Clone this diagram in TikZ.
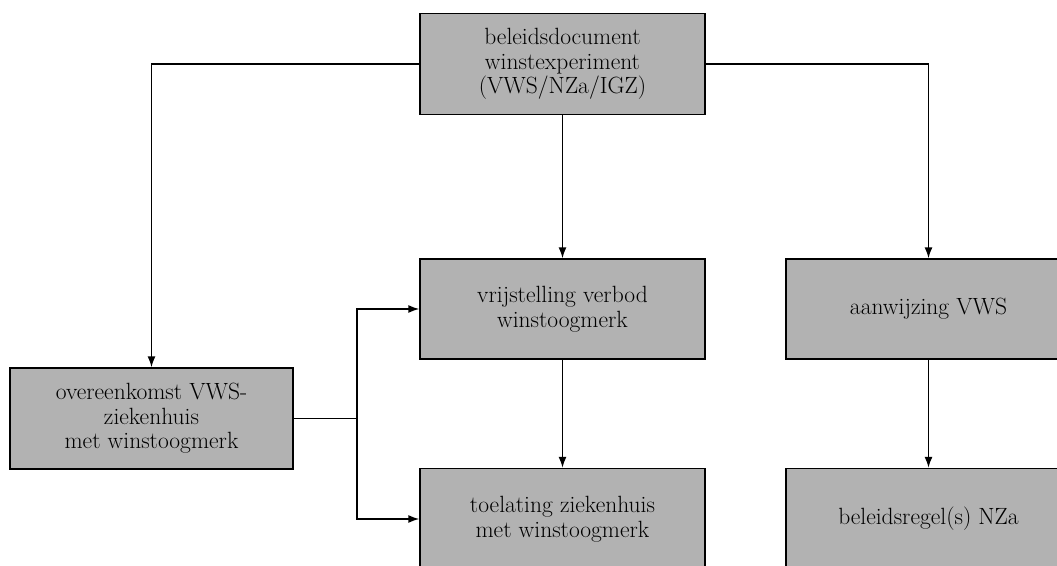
\documentclass[tikz,border=0pt]{standalone}
\usepackage{tikz}
\usetikzlibrary{positioning, arrows.meta}
\tikzset{
  blok/.style={draw, line width=1.3pt, fill=black!30, align=center,
    minimum width=285pt, minimum height=101pt, inner sep=2pt,
    font=\fontsize{23.5}{24.5}\selectfont},
  pijl/.style={line width=1.6pt, -{Latex[length=11pt, width=8pt]}}
}

\begin{document}
\begin{tikzpicture}[x=1pt, y=1pt]
      \useasboundingbox (0,0) rectangle (1057,565);
      \clip (0,0) rectangle (1057,565);
      \node[blok] (beleid) at (562.5,501) {beleidsdocument\\winstexperiment\\(VWS/NZa/IGZ)};
      \node[blok, minimum width=283pt] (overeen) at (151.5,146.5) {overeenkomst VWS-\\ziekenhuis\\met winstoogmerk};
      \node[blok, minimum height=100pt] (vrijst) at (562.5,256) {vrijstelling verbod\\winstoogmerk};
      \node[blok] (toelat) at (562.5,46) {toelating ziekenhuis\\met winstoogmerk};
      \node[blok, minimum height=100pt] (aanwijz) at (928.5,256) {aanwijzing VWS};
      \node[blok] (regel) at (928.5,46) {beleidsregel(s) NZa};
      \coordinate (splits) at (357,146.5);
      \draw[pijl] (beleid.west) -| (overeen.north);
      \draw[pijl] (beleid.east) -| (aanwijz.north);
      \draw[pijl] (beleid) -- (vrijst);
      \draw[pijl] (vrijst) -- (toelat);
      \draw[pijl] (aanwijz) -- (regel);
      \draw[line width=1.6pt] (overeen.east) -- (splits);
      \draw[pijl] (splits) |- (vrijst.west);
      \draw[pijl] (splits) |- (toelat.west);
    \end{tikzpicture}
\end{document}
